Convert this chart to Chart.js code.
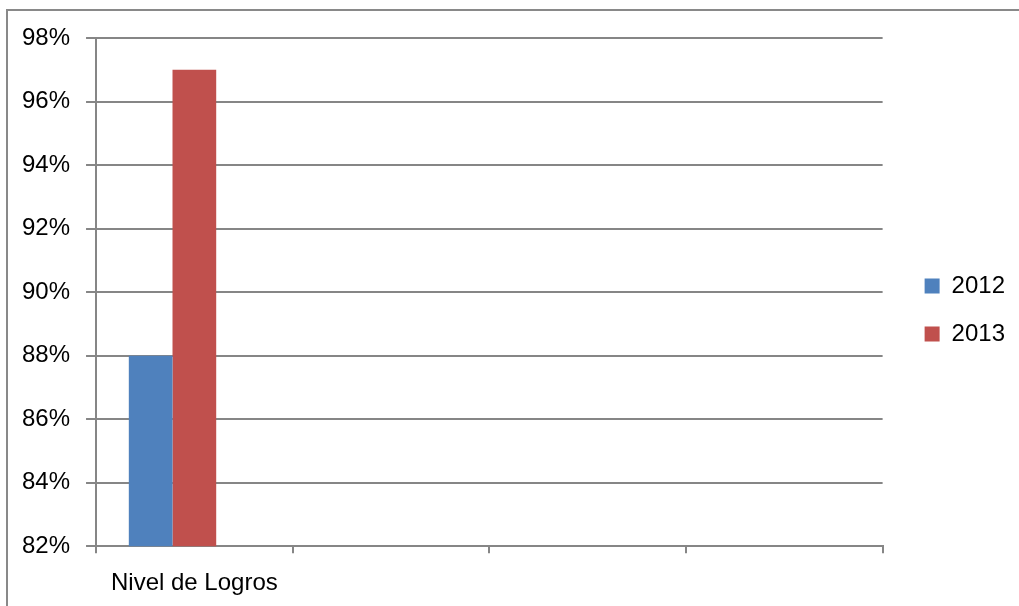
<!DOCTYPE html>
<html lang="es">
<head>
<meta charset="UTF-8">
<title>Nivel de Logros</title>
<script src="https://cdn.jsdelivr.net/npm/chart.js@4"></script>
<style>
  body { margin: 0; background: #fff; }
  #wrap { position: relative; width: 1019px; height: 606px; }
  #frame { position: absolute; left: 6px; top: 9px; right: 0; bottom: 0; border-left: 2px solid #898989; border-top: 2px solid #898989; }
  canvas { position: absolute; left: 0; top: 0; }
</style>
</head>
<body>
<div id="wrap">
  <div id="frame"></div>
  <canvas id="myChart" width="1019" height="606"></canvas>
</div>
<script>
// data
const categories = ['Nivel de Logros', '', '', ''];
const seriesNames = ['2012', '2013', ''];
const values2012 = [88, null, null, null];
const values2013 = [97, null, null, null];
const valuesBlank = [null, null, null, null]; // empty third series (keeps the bar spacing)
const seriesColors = ['#4F81BD', '#C0504D', '#9BBB59'];
const yMin = 82, yMax = 98, yStep = 2;

const font = { family: 'Liberation Sans', size: 24 };
const lineGray = '#868686';

// invisible spacer axes, used only to push the plot area around
const spacer = (pos, size) => ({
  type: 'linear', position: pos,
  grid: { display: false }, ticks: { display: false }, border: { display: false },
  afterFit: s => { if (pos === 'top') s.height = size; else s.width = size; }
});

const ctx = document.getElementById('myChart').getContext('2d');
const myChart = new Chart(ctx, {
  type: 'bar',
  data: {
    labels: categories,
    datasets: [values2012, values2013, valuesBlank].map((vals, i) => ({
      label: seriesNames[i],
      data: vals,
      backgroundColor: seriesColors[i],
      borderWidth: 0,
      barPercentage: 1,
      categoryPercentage: 2 / 3
    }))
  },
  options: {
    responsive: false,
    animation: false,
    layout: { padding: { left: 6, top: 6, right: 4, bottom: -8 } },
    plugins: {
      legend: {
        position: 'right',
        labels: {
          boxWidth: 15, boxHeight: 15, padding: 24, color: '#000', font: font,
          filter: item => item.text !== ''
        }
      },
      tooltip: { enabled: false }
    },
    scales: {
      x: {
        grid: { offset: true, drawOnChartArea: false, tickLength: 7, color: lineGray, lineWidth: 2 },
        border: { color: lineGray, width: 2 },
        ticks: { color: '#000', font: font, padding: 16, maxRotation: 0, autoSkip: false }
      },
      y: {
        min: yMin, max: yMax,
        ticks: { stepSize: yStep, callback: v => v + '%', padding: 16, color: '#000', font: font },
        grid: { color: lineGray, lineWidth: 2, tickLength: 10 },
        border: { color: lineGray, width: 2 }
      },
      gapRight: spacer('right', 18),
      gapTop: spacer('top', 32)
    }
  }
});
</script>
</body>
</html>
